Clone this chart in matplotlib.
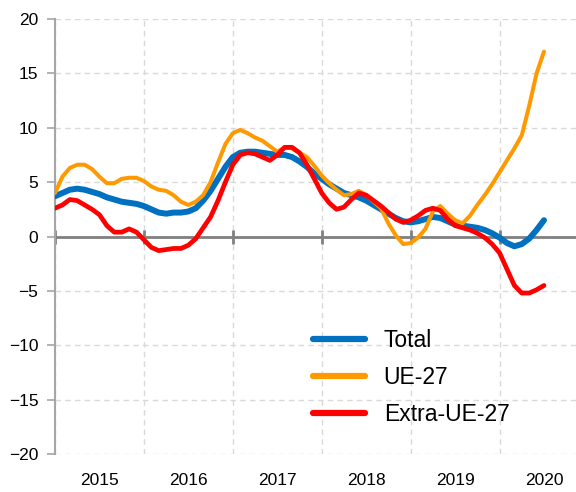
import matplotlib
matplotlib.use("Agg")
import matplotlib.pyplot as plt
import matplotlib.transforms as mtransforms
import numpy as np

plt.rcParams["font.family"] = ["Liberation Sans", "DejaVu Sans"]

# monthly series, Jan 2015 .. Jul 2020
start_year = 2015
total = [3.7, 4.0, 4.3, 4.4, 4.3, 4.1, 3.9, 3.6, 3.4, 3.2, 3.1, 3.0,
         2.8, 2.5, 2.2, 2.1, 2.2, 2.2, 2.3, 2.6, 3.3, 4.2, 5.3, 6.4,
         7.3, 7.7, 7.8, 7.8, 7.7, 7.6, 7.5, 7.5, 7.3, 6.9, 6.4, 5.8,
         5.3, 4.8, 4.4, 4.0, 3.8, 3.6, 3.3, 2.9, 2.5, 2.1, 1.7, 1.4,
         1.3, 1.4, 1.6, 1.8, 1.7, 1.4, 1.1, 1.0, 0.9, 0.8, 0.6, 0.3,
         -0.1, -0.6, -0.9, -0.7, -0.2, 0.6, 1.5]
ue27 = [4.0, 5.5, 6.3, 6.6, 6.6, 6.2, 5.5, 4.9, 4.9, 5.3, 5.4, 5.4,
        5.1, 4.6, 4.3, 4.2, 3.8, 3.2, 2.9, 3.2, 3.8, 5.0, 6.8, 8.5,
        9.5, 9.8, 9.5, 9.1, 8.8, 8.3, 7.8, 8.2, 8.1, 7.7, 7.3, 6.5,
        5.6, 4.9, 4.3, 3.8, 3.9, 4.2, 3.8, 3.2, 2.6, 1.2, 0.1, -0.7,
        -0.6, -0.1, 0.7, 2.3, 2.8, 2.1, 1.5, 1.2, 1.9, 2.9, 3.8, 4.8,
        5.9, 7.0, 8.1, 9.3, 12.0, 15.0, 17.0]
extra_ue27 = [2.6, 2.9, 3.4, 3.3, 2.9, 2.5, 2.0, 1.0, 0.4, 0.4, 0.7, 0.4,
              -0.3, -1.0, -1.3, -1.2, -1.1, -1.1, -0.8, -0.2, 0.8, 1.8, 3.3, 5.0,
              6.6, 7.5, 7.7, 7.6, 7.3, 7.0, 7.5, 8.2, 8.2, 7.7, 6.6, 5.3,
              4.0, 3.1, 2.5, 2.7, 3.4, 4.0, 3.8, 3.3, 2.8, 2.2, 1.6, 1.3,
              1.5, 1.9, 2.4, 2.6, 2.4, 1.6, 1.0, 0.8, 0.6, 0.3, -0.1, -0.7,
              -1.5, -3.0, -4.5, -5.2, -5.2, -4.9, -4.5]
years = [2015, 2016, 2017, 2018, 2019, 2020]
y_ticks = [-20, -15, -10, -5, 0, 5, 10, 15, 20]

x = start_year + np.arange(len(total)) / 12.0

fig = plt.figure(figsize=(5.76, 4.92), dpi=100)
ax = fig.add_axes([0.0955, 0.0772, 0.9045, 0.8842])

ax.plot(x, total, color="#0070C0", lw=4.3, label="Total", solid_capstyle="round", zorder=3)
ax.plot(x, ue27, color="#FF9900", lw=2.9, label="UE-27", solid_capstyle="round", zorder=4)
ax.plot(x, extra_ue27, color="#FF0000", lw=3.4, label="Extra-UE-27", solid_capstyle="round", zorder=5)

ax.set_xlim(2015, 2020.86)
ax.set_ylim(-20, 20)
ax.set_yticks(y_ticks)
ax.set_xticks(years)
ax.set_xticklabels([])

ax.grid(True, color="#d9d9d9", linestyle=(0, (4, 3)), lw=1.0, zorder=0)
for side in ("top", "right"):
    ax.spines[side].set_visible(False)
ax.spines["left"].set_color("#a6a6a6")
ax.spines["left"].set_linewidth(1.5)
ax.spines["bottom"].set_position(("data", 0))
ax.spines["bottom"].set_color("#808080")
ax.spines["bottom"].set_linewidth(2.0)
ax.spines["bottom"].set_zorder(2)

ax.tick_params(axis="y", length=6, width=1.2, color="#a6a6a6", labelsize=12.5, pad=6)
ax.tick_params(axis="x", direction="inout", length=10, width=2.0, color="#808080")

trans = mtransforms.blended_transform_factory(ax.transData, ax.transAxes)
for yr in years:
    ax.text(yr + 0.5, -0.06, str(yr), transform=trans, ha="center", va="center", fontsize=12.5)

leg = ax.legend(loc="lower left", bbox_to_anchor=(0.455, 0.018), frameon=False, fontsize=16.5,
                handlelength=2.3, handletextpad=0.8, labelspacing=0.6)
for line in leg.get_lines():
    line.set_linewidth(4.5)

fig.savefig("out.png", dpi=100)
